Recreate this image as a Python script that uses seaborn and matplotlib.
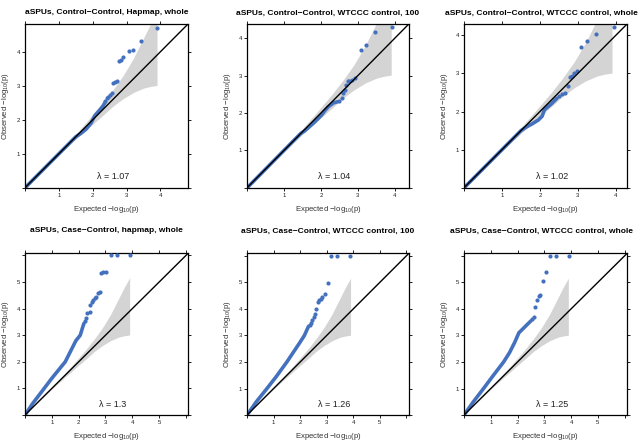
import numpy as np
import pandas as pd
import matplotlib
matplotlib.use("Agg")
import matplotlib.pyplot as plt
import seaborn as sns

# ------------------------------------------
# Data
# ------------------------------------------
titles = [
    "aSPUs, Control\u2212Control, Hapmap, whole",
    "aSPUs, Control\u2212Control, WTCCC control, 100",
    "aSPUs, Control\u2212Control, WTCCC control, whole",
    "aSPUs, Case\u2212Control, hapmap, whole",
    "aSPUs, Case\u2212Control, WTCCC control, 100",
    "aSPUs, Case\u2212Control, WTCCC control, whole",
]
lambdas = ["1.07", "1.04", "1.02", "1.3", "1.26", "1.25"]
axis_max = [4.82, 4.38, 4.30, 6.08, 6.10, 6.10]
top_ticks = [0, 1, 2, 3, 4]
top_labels = ["", "1", "2", "3", "4"]
bottom_ticks = [0, 1, 2, 3, 4, 5, 6]
bottom_labels = ["", "1", "2", "3", "4", "5", ""]

# confidence band (same in every panel)
band_x = [0.0, 1.0, 1.5, 2.0, 2.3, 2.6, 2.9, 3.2, 3.5, 3.7, 3.9]
band_hi = [0.0, 1.04, 1.58, 2.15, 2.5, 2.88, 3.3, 3.8, 4.4, 4.8, 5.16]
band_lo = [0.0, 0.97, 1.43, 1.87, 2.13, 2.4, 2.62, 2.8, 2.93, 2.98, 3.01]

# dense part of each curve (drawn as a thick trace of overlapping dots)
p1_trace_x = [0.0, 1.0, 1.5, 1.65, 1.8, 1.95, 2.06, 2.2, 2.3, 2.36]
p1_trace_y = [0.0, 1.0, 1.5, 1.6, 1.72, 1.9, 2.12, 2.28, 2.4, 2.5]
p2_trace_x = [0.0, 1.0, 1.45, 1.57, 1.84, 2.02, 2.11, 2.2, 2.34, 2.45]
p2_trace_y = [0.0, 1.0, 1.45, 1.53, 1.77, 1.95, 2.07, 2.17, 2.27, 2.3]
p3_trace_x = [0.0, 1.0, 1.5, 1.65, 1.8, 1.96, 2.06, 2.12, 2.3, 2.45]
p3_trace_y = [0.0, 1.0, 1.5, 1.6, 1.68, 1.78, 1.88, 2.05, 2.2, 2.35]
p4_trace_x = [0.0, 0.3, 0.7, 1.0, 1.5, 1.75, 1.9, 2.06, 2.15, 2.2]
p4_trace_y = [0.0, 0.45, 0.98, 1.38, 2.0, 2.5, 2.8, 3.0, 3.3, 3.45]
p5_trace_x = [0.0, 0.35, 0.75, 1.1, 1.5, 1.8, 2.0, 2.16, 2.25, 2.32]
p5_trace_y = [0.0, 0.5, 1.0, 1.45, 2.0, 2.45, 2.75, 3.0, 3.2, 3.35]
p6_trace_x = [0.0, 0.35, 0.73, 1.1, 1.48, 1.7, 1.9, 2.05, 2.2, 2.4, 2.5]
p6_trace_y = [0.0, 0.5, 1.0, 1.5, 2.0, 2.35, 2.75, 3.1, 3.25, 3.45, 3.55]

# sparse tail points
p1_x = [2.36, 2.41, 2.46, 2.51, 2.56, 2.61, 2.65, 2.71, 2.78, 2.83, 2.91, 3.06, 3.20, 3.43, 3.91]
p1_y = [2.55, 2.63, 2.68, 2.73, 2.78, 3.08, 3.11, 3.13, 3.72, 3.75, 3.86, 4.01, 4.04, 4.31, 4.71]
p2_x = [2.50, 2.56, 2.60, 2.65, 2.69, 2.72, 2.77, 2.83, 2.92, 3.07, 3.22, 3.46, 3.93]
p2_y = [2.31, 2.40, 2.53, 2.62, 2.75, 2.85, 2.86, 2.89, 2.94, 3.67, 3.81, 4.17, 4.29]
p3_x = [2.49, 2.58, 2.66, 2.74, 2.80, 2.84, 2.91, 2.99, 3.09, 3.24, 3.47, 3.94]
p3_y = [2.42, 2.47, 2.49, 2.67, 2.91, 2.93, 3.00, 3.06, 3.70, 3.86, 4.03, 4.21]
p4_x = [2.25, 2.29, 2.31, 2.41, 2.44, 2.50, 2.54, 2.60, 2.66, 2.72, 2.79, 2.85, 2.91, 3.03, 3.19, 3.44, 3.90]
p4_y = [3.55, 3.64, 3.85, 3.89, 4.14, 4.26, 4.32, 4.39, 4.45, 4.57, 4.64, 5.32, 5.36, 5.38, 6.0, 6.0, 6.0]
p5_x = [2.36, 2.41, 2.46, 2.51, 2.55, 2.59, 2.66, 2.71, 2.77, 2.84, 2.94, 3.04, 3.15, 3.40, 3.88]
p5_y = [3.39, 3.48, 3.57, 3.70, 3.80, 4.01, 4.25, 4.32, 4.39, 4.45, 4.55, 4.99, 6.0, 6.0, 6.0]
p6_x = [2.56, 2.60, 2.67, 2.72, 2.79, 2.85, 2.95, 3.06, 3.23, 3.45, 3.91]
p6_y = [3.64, 3.70, 4.07, 4.32, 4.47, 4.54, 5.04, 5.38, 6.0, 6.0, 6.0]

traces = [(p1_trace_x, p1_trace_y), (p2_trace_x, p2_trace_y), (p3_trace_x, p3_trace_y),
          (p4_trace_x, p4_trace_y), (p5_trace_x, p5_trace_y), (p6_trace_x, p6_trace_y)]
tails = [(p1_x, p1_y), (p2_x, p2_y), (p3_x, p3_y), (p4_x, p4_y), (p5_x, p5_y), (p6_x, p6_y)]

# ------------------------------------------
# Style
# ------------------------------------------
sns.set_theme(style="ticks")
plt.rcParams["font.family"] = ["Liberation Sans", "DejaVu Sans"]
plt.rcParams["mathtext.fontset"] = "custom"
plt.rcParams["mathtext.rm"] = "Liberation Sans"
plt.rcParams["mathtext.default"] = "regular"

point_color = "#4471BE"
band_color = "#D4D4D4"

fig = plt.figure(figsize=(6.4, 4.42), dpi=100)

# axes boxes in figure fractions [left, bottom, width, height]
col_left = [0.039, 0.386, 0.725]
col_width = [0.255, 0.253, 0.255]
row_bottom = [0.575, 0.061]
row_height = [0.371, 0.366]
title_y = [1.067, 1.138]
title_x = [0.5, 0.5, 0.472]

for i in range(6):
    row, col = divmod(i, 3)
    ax = fig.add_axes([col_left[col], row_bottom[row], col_width[col], row_height[row]])
    lim = axis_max[i]

    ax.fill_between(band_x, band_lo, band_hi, color=band_color, linewidth=0, zorder=1)

    tx, ty = traces[i]
    sns.lineplot(x=tx, y=ty, sort=False, color=point_color, linewidth=2.6,
                 solid_capstyle="round", ax=ax, zorder=2)
    px, py = tails[i]
    sns.scatterplot(x=px, y=py, color=point_color, s=9, linewidth=0, ax=ax, zorder=3)

    ax.plot([0, lim], [0, lim], color="black", linewidth=1.0, zorder=4)

    ax.set_xlim(0, lim)
    ax.set_ylim(0, lim)
    ticks = top_ticks if row == 0 else bottom_ticks
    labels = top_labels if row == 0 else bottom_labels
    ax.set_xticks(ticks)
    ax.set_xticklabels(labels)
    ax.set_yticks(ticks)
    ax.set_yticklabels(labels)
    ax.tick_params(direction="out", length=2.5, width=0.7, top=True, right=True,
                   labeltop=False, labelright=False, labelsize=4.3, pad=1.2,
                   colors="#222222")
    for sp in ax.spines.values():
        sp.set_visible(True)
        sp.set_linewidth(0.9)
        sp.set_color("black")

    ax.set_xlabel("Expected \u2212log$_{10}$(p)", fontsize=5.6, color="#333333")
    ax.set_ylabel("Observed \u2212log$_{10}$(p)", fontsize=5.6, color="#333333")
    ax.xaxis.label.set_va("center")
    ax.yaxis.label.set_va("center")
    ax.xaxis.set_label_coords(0.5, -0.135)
    ax.yaxis.set_label_coords(-0.118, 0.5)

    ax.text(title_x[col], title_y[row], titles[i], transform=ax.transAxes, ha="center",
            va="center", fontsize=6, fontweight="bold", color="black")
    ax.text(0.54, 0.067, "\u03bb = " + lambdas[i], transform=ax.transAxes,
            ha="center", va="center", fontsize=6.5, color="#222222")

fig.savefig("out.png", dpi=100)
